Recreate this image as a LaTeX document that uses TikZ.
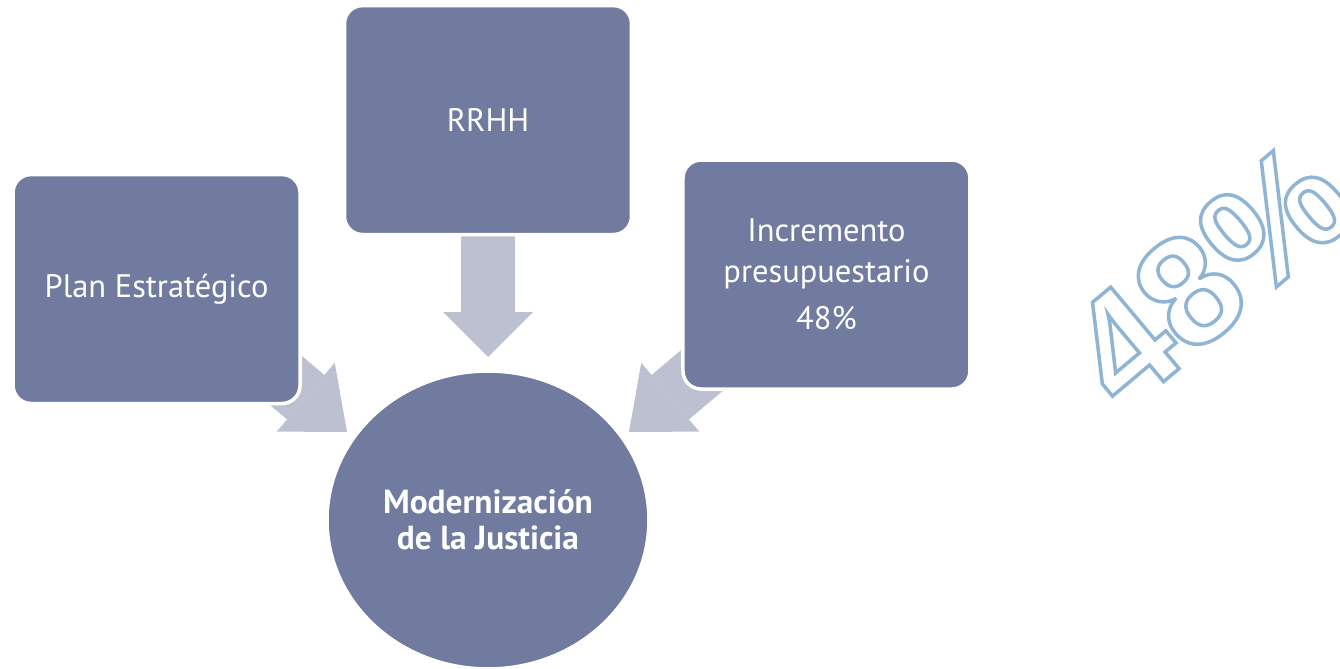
\documentclass[tikz,border=0pt]{standalone}
\usepackage{fontspec}
\setmainfont{PT Sans}
\newfontfamily\fuenteCifra{Liberation Sans}
\usepackage{xcolor}
\definecolor{colorCaja}{HTML}{717BA0}
\definecolor{colorFlecha}{HTML}{BCC0D0}
\definecolor{colorContorno}{HTML}{8FB4D4}
\usetikzlibrary{arrows.meta, positioning, shapes.geometric, backgrounds}
% texto solo con trazo (modo de render 1)
\newcommand{\textoContorno}[1]{\special{pdf:literal direct q 1 Tr 2 w 0.561 0.706 0.831 RG}#1\special{pdf:literal direct Q}}
\tikzset{caja/.style={rectangle, rounded corners=0.36cm, fill=colorCaja, draw=white, line width=2pt,
    minimum width=5.74cm, minimum height=4.58cm, text=white, align=center, font=\fontsize{18.5}{23}\selectfont},
  meta/.style={ellipse, fill=colorCaja, draw=white, line width=2pt, inner sep=0pt,
    minimum width=6.44cm, minimum height=5.96cm, text=white, align=center, font=\fontsize{19}{20.5}\selectfont\bfseries},
  flecha/.style={colorFlecha, line width=1.08cm, -{Triangle[width=1.8cm 0 0, length=0.9cm 0 0, line width=0pt 0 0]}},
  flechaLado/.style={colorFlecha, line width=1.16cm, -{Triangle[width=1.8cm 0 0, length=1.08cm 0 0, line width=0pt 0 0]}},
  porcentaje/.style={font=\fuenteCifra\fontsize{88}{88}\selectfont\bfseries}}

\begin{document}
\begin{tikzpicture}[x=0.02cm, y=-0.02cm, node distance=1cm]
\useasboundingbox (0,0) rectangle (1340,669);
\clip (0,0) rectangle (1340,669);
\node[meta] (modern) at (488,520) {Modernización\\de la Justicia};
\node[caja, above=2.66cm of modern] (rrhh) {RRHH};
\node[caja, left=0.82cm of rrhh, yshift=-3.38cm] (plan) {Plan Estratégico};
\node[caja, right=0.96cm of rrhh, yshift=-3.09cm] (incr) {Incremento\\presupuestario\\[4pt]48\%};
\coordinate (puntaRRHH) at (488,357);
\coordinate (puntaPlan) at (347,432);
\coordinate (colaPlan) at (194,303);
\coordinate (puntaIncr) at (629,432);
\coordinate (colaIncr) at (782,303);
\begin{scope}[on background layer]
\draw[flecha] (rrhh.center) -- (puntaRRHH);
\draw[flechaLado] (colaPlan) -- (puntaPlan);
\draw[flechaLado] (colaIncr) -- (puntaIncr);
\end{scope}
\node[porcentaje, rotate=40] (cifra) at (1209,274) {\textoContorno{48\%}};
\end{tikzpicture}
\end{document}
